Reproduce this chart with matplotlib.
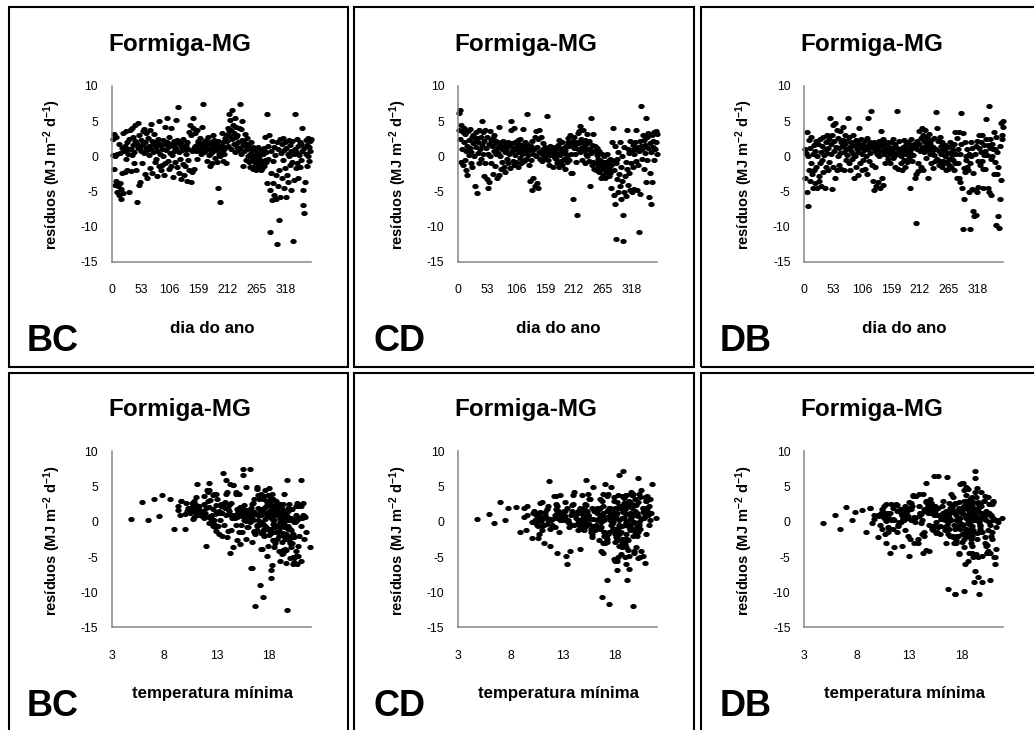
import matplotlib
matplotlib.use('Agg')
import matplotlib.pyplot as plt
from matplotlib.patches import Rectangle
from matplotlib.path import Path
import numpy as np

plt.rcParams['font.family'] = ['Liberation Sans', 'DejaVu Sans']
plt.rcParams['mathtext.fontset'] = 'custom'
plt.rcParams['mathtext.rm'] = 'Liberation Sans:bold'
plt.rcParams['mathtext.it'] = 'Liberation Sans:bold'
plt.rcParams['mathtext.bf'] = 'Liberation Sans:bold'
plt.rcParams['mathtext.default'] = 'rm'
plt.rcParams['axes.unicode_minus'] = False

# ---------------- data ----------------
day = list(range(1, 366))

tmin = [
    19.0, 20.2, 18.4, 19.6, 20.5, 19.3, 17.8, 20.8, 19.9, 20.3,
    20.6, 18.9, 21.0, 19.5, 20.1, 20.7, 19.2, 18.6, 21.3, 20.0,
    18.2, 19.7, 20.4, 18.8, 19.4, 18.0, 19.0, 20.9, 19.8, 18.5,
    20.5, 18.7, 17.9, 19.1, 20.2, 19.5, 18.3, 19.0, 18.1, 20.0,
    19.3, 18.4, 17.6, 19.9, 18.8, 16.3, 18.0, 19.2, 19.6, 17.8,
    20.1, 18.9, 18.2, 19.4, 19.8, 17.5, 18.6, 17.2, 19.0, 18.4,
    19.7, 17.4, 18.8, 19.1, 20.2, 17.9, 18.5, 18.0, 16.9, 19.3,
    18.6, 16.8, 17.7, 19.5, 18.2, 17.3, 16.6, 19.0, 17.5, 18.1,
    18.4, 17.8, 19.2, 16.9, 16.4, 15.8, 18.7, 17.6, 16.2, 18.9,
    16.5, 18.0, 15.6, 17.2, 18.4, 15.9, 14.8, 17.5, 16.3, 15.2,
    14.3, 16.8, 15.0, 17.4, 14.4, 16.0, 14.9, 16.6, 13.9, 15.7,
    14.2, 16.4, 13.6, 15.1, 13.8, 15.9, 14.6, 13.2, 15.4, 12.9,
    13.6, 14.5, 15.8, 12.6, 14.8, 12.3, 15.2, 13.0, 13.9, 14.4,
    11.8, 14.9, 12.5, 14.1, 11.6, 13.3, 12.0, 11.2, 12.8, 13.7,
    11.0, 13.5, 12.1, 14.6, 10.8, 12.4, 14.0, 11.1, 12.7, 11.5,
    13.2, 7.0, 10.6, 11.9, 7.8, 12.8, 10.4, 9.3, 11.3, 10.9,
    10.1, 11.7, 4.8, 10.5, 12.2, 15.5, 11.0, 12.4, 10.3, 15.4,
    7.5, 10.7, 11.5, 12.6, 10.0, 5.9, 6.4, 10.8, 12.9, 11.2,
    10.6, 11.8, 10.2, 8.9, 9.6, 11.6, 10.4, 11.0, 12.3, 9.3,
    9.5, 10.9, 12.8, 14.3, 11.3, 10.7, 11.9, 12.5, 16.4, 10.5,
    8.5, 10.8, 12.0, 13.1, 16.7, 12.7, 10.6, 11.5, 10.0, 12.4,
    13.4, 12.9, 13.2, 11.8, 13.9, 12.2, 14.6, 17.2, 12.6, 15.5,
    13.4, 12.3, 14.1, 13.0, 12.3, 14.7, 13.8, 14.0, 15.0, 9.6,
    14.4, 15.2, 14.8, 13.5, 16.2, 15.6, 15.1, 14.2, 16.8, 15.9,
    16.6, 15.4, 14.9, 17.0, 16.1, 15.3, 16.5, 14.6, 15.8, 17.2,
    16.0, 15.7, 16.9, 15.1, 16.3, 17.4, 15.5, 16.7, 17.1, 16.2,
    17.6, 16.8, 15.9, 17.3, 18.0, 16.4, 17.8, 16.6, 18.3, 17.0,
    16.5, 18.1, 17.5, 16.9, 18.6, 17.2, 18.4, 17.7, 18.9, 16.8,
    17.9, 18.5, 19.0, 17.3, 19.7, 18.2, 19.3, 18.7, 17.8, 17.4,
    18.8, 19.5, 18.3, 18.1, 17.2, 19.8, 18.6, 19.0, 20.2, 18.4,
    20.3, 19.1, 19.7, 18.9, 20.6, 17.1, 19.4, 18.0, 19.6, 20.9,
    19.2, 20.0, 18.6, 20.7, 19.3, 21.2, 18.2, 19.8, 20.4, 18.8,
    19.9, 20.5, 18.5, 21.0, 19.0, 20.1, 18.3, 20.6, 21.4, 19.4,
    20.8, 16.7, 19.6, 17.9, 21.0, 18.7, 20.3, 21.1, 19.3, 18.0,
    19.8, 18.6, 20.7, 19.0, 21.5, 20.2, 18.9, 19.4, 21.3, 20.8,
    18.2, 19.6, 18.2, 21.9, 20.9, 20.0, 17.4, 19.1, 21.2, 20.4,
    19.5, 21.0, 20.6, 18.4, 19.9,
]

res_bc = [
    2.5, 0.2, 3.2, -1.8, 0.0, -4.0, 2.8, -3.5, 0.3, -5.0,
    -4.2, 1.8, -5.5, -3.8, 0.5, -6.0, -4.6, 1.2, -2.4, -5.2,
    3.3, 0.8, -2.2, 1.5, -0.3, 3.6, 2.0, -2.0, 0.4, 1.0,
    -5.0, 2.5, 3.8, 1.0, -2.1, 0.2, 4.0, 1.6, 2.8, -1.0,
    0.6, 2.2, 4.5, -2.0, 1.8, -6.5, 4.8, 1.2, -4.0, 3.0,
    -3.6, 1.4, 2.4, 0.8, -1.0, 3.6, 1.8, 3.9, 0.5, 2.0,
    -2.5, 3.3, 1.2, 0.9, -3.0, 2.6, 0.2, 1.5, 3.8, -1.6,
    1.0, 4.6, 2.2, -2.4, 0.6, 1.7, 3.2, -0.8, 2.0, 1.3,
    -0.3, 0.8, -2.8, 1.9, 2.5, 5.0, -1.4, 0.4, 1.6, -2.0,
    1.1, -1.2, 2.4, 0.0, -2.6, 1.7, 4.2, -1.0, 0.9, 2.0,
    5.4, -0.6, 1.3, -1.8, 2.7, 0.5, 1.8, -1.3, 4.0, 0.2,
    1.5, -2.9, 2.2, 0.8, 1.9, -0.8, 5.2, 1.2, -1.5, 2.4,
    7.0, 0.6, -2.4, 1.8, -0.4, 2.1, -3.2, 1.4, 0.9, -1.1,
    2.5, -2.6, 1.0, -1.3, 1.6, 0.3, -3.5, 2.0, 1.1, -0.5,
    3.5, -2.0, 4.5, -3.6, 3.0, 0.8, -2.2, 5.4, 4.0, 1.2,
    -1.8, 3.3, 1.5, 0.7, 3.8, -0.4, 1.9, 2.2, 0.9, 1.5,
    2.6, 1.0, 0.4, 1.7, 4.2, 7.5, 1.2, 0.6, 2.0, 1.4,
    0.8, 2.3, 1.6, -0.6, 1.1, 2.8, 0.2, 1.9, -1.3, 1.0,
    2.0, 0.5, 1.5, -1.0, 3.0, 0.8, 1.3, 2.4, -0.2, 1.7,
    0.9, 1.8, -0.8, -4.5, 2.2, 0.4, 1.2, 0.0, -6.5, 1.5,
    3.3, 0.7, 2.0, -0.6, 1.1, 0.3, 2.6, 1.4, -1.0, 3.1,
    2.2, 4.0, 1.5, 3.6, 6.0, 2.9, 5.2, 1.0, 3.8, 6.6,
    2.5, 4.5, 1.8, 3.3, 5.5, 0.6, 2.8, 4.2, 1.4, 3.0,
    0.9, 2.1, 4.0, 1.2, 7.5, 0.3, 3.9, 2.4, 5.0, 1.6,
    -1.4, 2.0, 0.7, 3.2, 1.5, -0.5, 2.6, 1.0, 0.1, 1.8,
    -0.8, 1.2, 0.3, -1.5, 2.0, -0.3, 0.8, -1.8, 1.4, 0.0,
    -0.6, -1.2, 1.1, -0.2, -1.9, 0.5, -0.9, 1.4, -1.5, -0.4,
    0.2, -1.0, -2.0, 0.9, -0.7, -1.6, 0.3, 1.2, -1.3, -0.5,
    2.8, -0.8, 0.6, -3.8, 6.0, 1.5, -0.3, 3.0, -4.8, -10.7,
    -2.4, 0.8, -6.2, 2.2, -3.8, -0.6, 1.4, -5.5, 0.2, -2.6,
    -6.0, 2.0, -12.5, -4.2, 1.0, -9.0, -2.0, 2.5, -5.8, 0.5,
    1.8, -3.0, -0.5, 2.6, -4.5, 0.9, -1.6, 2.0, -5.7, 1.2,
    -2.6, 0.4, -3.6, 2.3, 0.0, -1.2, 1.6, -4.8, 0.7, -0.8,
    2.2, -12.0, 0.3, -3.4, 6.0, 1.1, -1.7, 0.6, 2.5, -1.0,
    1.5, -3.0, 0.2, 2.0, -1.5, 1.8, -0.5, 4.0, 0.8, -4.8,
    -6.9, 1.2, -8.0, -3.6, 2.4, 0.4, -1.3, 1.6, 2.6, 0.0,
    1.4, -0.6, 2.2, 0.8, 2.5,
]

res_cd = [
    3.8, 6.2, 6.6, 2.5, 4.5, -0.8, 1.0, 3.5, -1.2, 4.0,
    2.0, -0.5, 3.2, 0.8, -2.0, 1.5, -2.6, 3.6, 0.2, 2.4,
    1.2, 3.9, -1.0, 0.6, 2.8, -1.5, 1.9, 3.0, 0.0, 2.2,
    -4.2, 1.4, 3.5, 2.6, -5.2, 0.5, 2.0, 3.8, -1.0, 1.1,
    2.7, -0.4, 5.0, 1.6, 3.4, 0.3, -2.8, 2.2, 3.8, -1.0,
    1.2, -3.2, 2.8, 0.4, -4.5, 1.8, -3.6, 3.6, 0.0, 2.3,
    -1.0, 1.5, 2.6, -2.5, 0.8, 3.0, -1.4, 1.9, 0.3, 2.2,
    -3.0, 1.2, 0.5, 4.2, -2.6, 1.6, 0.0, -1.8, 2.0, 1.0,
    -0.8, 1.4, 2.2, -1.5, 0.6, -2.2, 1.8, 0.9, -0.4, 1.3,
    2.0, -1.0, 0.4, 1.6, -1.6, 5.0, 3.8, 0.7, 1.9, -0.6,
    1.2, 4.0, -1.2, 2.0, 0.2, -0.8, 1.5, 0.9, 2.4, -1.5,
    0.6, 1.8, -0.2, 2.5, 1.0, -1.0, 0.3, 1.6, 3.9, 0.8,
    -0.7, 1.3, 2.0, 0.5, -0.3, 1.8, 6.0, 0.2, 1.1, -1.2,
    -3.5, 0.9, 1.5, -0.5, 2.2, -4.8, 0.4, -3.0, 1.0, -4.2,
    2.8, 0.0, 3.6, -3.8, 1.4, -4.5, 2.5, 0.6, 3.8, -0.3,
    0.8, 2.8, -0.6, 0.3, 1.9, 1.0, -0.2, 0.7, 1.4, 0.1,
    1.2, 5.8, 0.4, -0.5, 1.0, 0.6, -1.2, 1.5, 0.2, 0.9,
    0.2, 1.3, 0.5, -1.5, 0.0, 1.1, -0.2, 0.7, 1.4, -0.4,
    0.3, -1.0, 1.6, -1.5, 2.3, 0.2, 1.0, -0.6, 0.5, 2.0,
    -1.2, 0.6, 1.2, -0.3, 0.9, -1.8, 0.4, 1.5, -0.8, 0.0,
    2.1, 2.6, -0.5, 1.5, 3.0, 0.3, -2.3, 1.8, -2.3, 2.2,
    -6.0, 1.2, 2.8, 0.4, 1.6, -0.8, 2.0, -8.3, 1.0, 3.3,
    1.9, 3.6, 4.3, 0.6, 2.5, 1.2, -0.5, 3.8, 2.0, 0.9,
    1.5, 2.4, -1.0, 0.3, 1.8, 3.2, 0.0, 1.1, 2.2, -0.6,
    -4.2, 1.0, 0.5, 5.4, -1.2, 1.6, 3.2, -0.8, -1.8, 0.7,
    1.5, -1.0, -2.0, 0.2, 1.2, -1.5, -0.3, 0.8, -2.2, -1.0,
    -0.5, -3.0, 0.4, -1.8, -1.2, -2.6, 0.0, -0.8, -1.5, -3.0,
    -1.0, -2.2, 0.3, -1.4, -0.6, -2.8, -1.8, -0.3, -2.4, -4.5,
    -1.2, 2.0, -0.5, 4.0, -2.0, -5.5, -6.7, 1.5, -1.0, -11.7,
    -3.2, -0.3, -5.0, 0.6, -2.5, -4.2, 2.0, -6.0, -1.5, -3.5,
    0.0, -8.3, -12.0, -5.0, 1.4, -2.8, -0.8, -5.6, 3.8, -1.8,
    -4.0, 1.0, -2.4, 0.5, -4.8, 2.2, -1.0, 0.9, -5.0, 1.6,
    -1.5, 0.4, -4.6, 2.0, 1.1, -0.6, 3.8, -4.8, 1.3, -1.2,
    0.8, -10.7, 2.2, -5.3, 1.5, 7.2, -0.4, 1.0, 3.0, -1.8,
    2.4, 0.5, 1.6, -3.6, 5.4, 2.8, -0.5, 1.2, 3.3, -5.8,
    -2.3, 1.9, -6.8, 0.6, 3.0, -3.6, 1.4, 2.2, -0.5, 3.5,
    1.0, 3.6, 2.0, 0.3, 3.2,
]

res_db = [
    1.0, -3.0, 0.5, -5.0, 3.5, -7.0, 0.0, -2.0, 2.3, -3.5,
    1.2, -1.0, 2.8, -2.5, 0.4, -4.5, 1.6, -2.0, -3.8, 0.8,
    2.2, -1.5, -4.5, 0.0, 1.8, -2.8, -3.5, 2.5, -1.0, 0.6,
    -4.2, 1.5, -0.5, 2.8, -2.2, 0.2, 1.0, -4.5, 2.0, -1.5,
    0.5, 3.0, -2.0, 1.2, 2.5, -0.8, 5.5, 0.3, 1.8, -4.6,
    3.0, -1.5, 4.5, 0.8, 2.2, -3.0, 4.7, 1.4, -2.0, 3.8,
    0.0, 2.6, 1.2, -1.2, 3.6, 0.5, 2.0, -1.8, 1.5, 4.2,
    2.4, 0.6, -2.0, 1.8, 3.0, -0.5, 1.0, 2.2, 0.2, 5.5,
    -1.0, 2.8, 1.3, -2.0, 0.8, 2.0, -0.3, 1.6, 3.0, 0.4,
    -3.0, 1.5, 0.0, 2.4, -1.5, 1.0, 2.0, -2.6, 0.6, 1.8,
    4.0, -1.0, 1.2, 2.5, -2.0, 0.4, 1.6, -0.5, 2.2, 0.9,
    -1.8, 1.4, 0.0, 2.6, -2.5, 1.0, 5.5, 1.8, -0.6, 2.0,
    0.5, 1.5, 6.5, -1.2, 1.2, -3.5, 2.0, -4.8, 0.8, -1.5,
    1.6, -4.2, 0.3, 1.1, -3.6, 2.2, 0.0, -4.5, 1.5, 3.6,
    0.7, -3.0, 1.8, -4.0, 2.5, 0.4, 1.2, -1.0, 0.8, 1.9,
    0.2, 2.1, 1.0, -0.4, 1.4, 0.6, -1.0, 2.0, 0.3, 1.1,
    0.8, 2.5, -0.2, 1.4, 0.0, 1.8, -1.5, 0.5, 1.2, 6.5,
    0.3, -1.8, 0.4, 2.2, 0.9, 1.0, -1.0, 0.1, -2.0, 1.3,
    0.6, 2.4, -0.5, -1.5, 1.0, 0.3, 1.8, -0.8, 0.9, 2.0,
    -0.2, 1.2, 0.5, -4.5, 2.5, 1.0, -0.6, 1.6, 0.2, 1.4,
    1.7, -3.0, 1.5, -2.5, -9.5, 1.1, 2.2, -1.0, -2.1, 1.8,
    3.6, 0.8, 2.6, -1.5, 4.0, 1.2, 3.0, -2.0, 0.6, 2.2,
    3.8, 1.5, -0.2, 2.8, 0.9, 2.0, -3.0, 1.2, 3.2, 0.4,
    1.8, -1.0, 2.4, 0.7, 1.3, -1.6, 2.6, 0.2, 1.1, -0.6,
    6.3, 1.0, -0.4, 4.0, 2.2, -1.2, 0.8, 2.8, -0.7, 1.5,
    0.4, -1.5, 2.0, -0.6, 0.9, -1.0, 1.6, 0.0, -2.0, 1.2,
    -0.8, 0.5, -1.8, 1.4, -0.3, -1.2, 2.0, 0.6, -1.5, 0.2,
    1.5, -0.5, 0.9, -2.0, 1.8, 3.5, -1.0, 0.3, -3.0, 2.6,
    -1.0, 1.0, 3.5, -3.0, 0.4, -3.6, 6.2, 1.8, -4.5, -10.3,
    3.3, -1.6, -6.0, 2.0, -2.2, -0.5, 0.0, -1.5, 1.0, -2.0,
    0.3, -5.0, -10.3, -1.0, 0.0, 2.0, -4.6, 1.2, -7.8, -2.4,
    -8.5, -4.8, 0.4, -8.3, 1.5, -5.0, 2.2, -0.6, -4.4, 3.0,
    1.2, -1.2, 2.0, 0.6, -0.6, 3.0, -1.8, -4.5, 0.2, 1.6,
    0.8, -1.8, 2.5, 5.3, 0.2, -4.5, 1.6, -5.0, 7.2, 1.2,
    2.5, -5.5, -0.4, 1.8, 0.0, 1.0, -2.5, 3.5, -0.8, 1.0,
    -9.8, 2.8, -2.5, 0.6, -1.5, -8.5, -10.2, 1.5, -6.0, -3.3,
    4.8, 3.0, 2.5, 5.0, 4.2,
]

models = ['BC', 'CD', 'DB']
residuals = [res_bc, res_cd, res_db]
title_text = 'Formiga-MG'
ylabel_text = 'resíduos (MJ m$^{-2}$ d$^{-1}$)'
xlabel_texts = ['dia do ano', 'temperatura mínima']
yticks = [-15, -10, -5, 0, 5, 10]
xticks_day = [0, 53, 106, 159, 212, 265, 318]
xticks_temp = [3, 8, 13, 18]

assert len(tmin) == 365 and all(len(r) == 365 for r in residuals)

# ---------------- layout ----------------
W, H = 1034, 730
fig = plt.figure(figsize=(W / 100, H / 100), dpi=100)


def fx(x):
    return x / W


def fy(y):
    return 1 - y / H


# elliptical marker (Excel-like oval)
th = np.linspace(0, 2 * np.pi, 36)
oval = Path(np.column_stack([np.cos(th), 0.8 * np.sin(th)]))

box_l = [8.7, 354.3, 700.7]
box_r = [347.7, 694.0, 1041.0]
box_t = [7.3, 372.7]
box_b = [366.5, 740.0]

for r in range(2):
    for c in range(3):
        dy = 365.4 * r
        dx = 346.2 * c
        # panel border
        fig.patches.append(Rectangle((fx(box_l[c]), fy(box_b[r])),
                                     (box_r[c] - box_l[c]) / W,
                                     (box_b[r] - box_t[r]) / H,
                                     transform=fig.transFigure, fill=False,
                                     edgecolor='black', linewidth=1.5,
                                     clip_on=False))
        ax_l, ax_t, aw, ah = 112 + dx, 86 + dy, 199, 176
        ax = fig.add_axes([fx(ax_l), fy(ax_t + ah), aw / W, ah / H])
        ax.patch.set_alpha(0)
        yv = residuals[c]
        if r == 0:
            xv = day
            ax.set_xlim(0, 365)
            ax.set_xticks(xticks_day)
        else:
            xv = tmin
            ax.set_xlim(3, 22)
            ax.set_xticks(xticks_temp)
        ax.plot(xv, yv, ls='none', marker=oval, ms=4.6, color='black',
                mew=0, clip_on=False)
        ax.set_ylim(-15, 10)
        ax.set_yticks(yticks)
        for s in ['top', 'right']:
            ax.spines[s].set_visible(False)
        for s in ['left', 'bottom']:
            ax.spines[s].set_color('#868686')
            ax.spines[s].set_linewidth(1.1)
        ax.tick_params(axis='both', length=0, labelsize=8.7, colors='black')
        ax.tick_params(axis='y', pad=10)
        ax.tick_params(axis='x', pad=16)

        # texts
        fig.text(fx(179.5 + dx), fy(50.5 + dy), title_text, ha='center',
                 va='baseline', fontsize=17.5, fontweight='bold')
        fig.text(fx(212 + dx), fy(333 + dy), xlabel_texts[r], ha='center',
                 va='baseline', fontsize=12.2, fontweight='bold')
        fig.text(fx(52 + dx), fy(175 + dy), ylabel_text, ha='center',
                 va='center', rotation=90, fontsize=10.5, fontweight='bold')
        fig.text(fx(27 + dx), fy(350.7 + dy), models[c], ha='left',
                 va='baseline', fontsize=26, fontweight='bold')

fig.savefig('out.png', dpi=100)
